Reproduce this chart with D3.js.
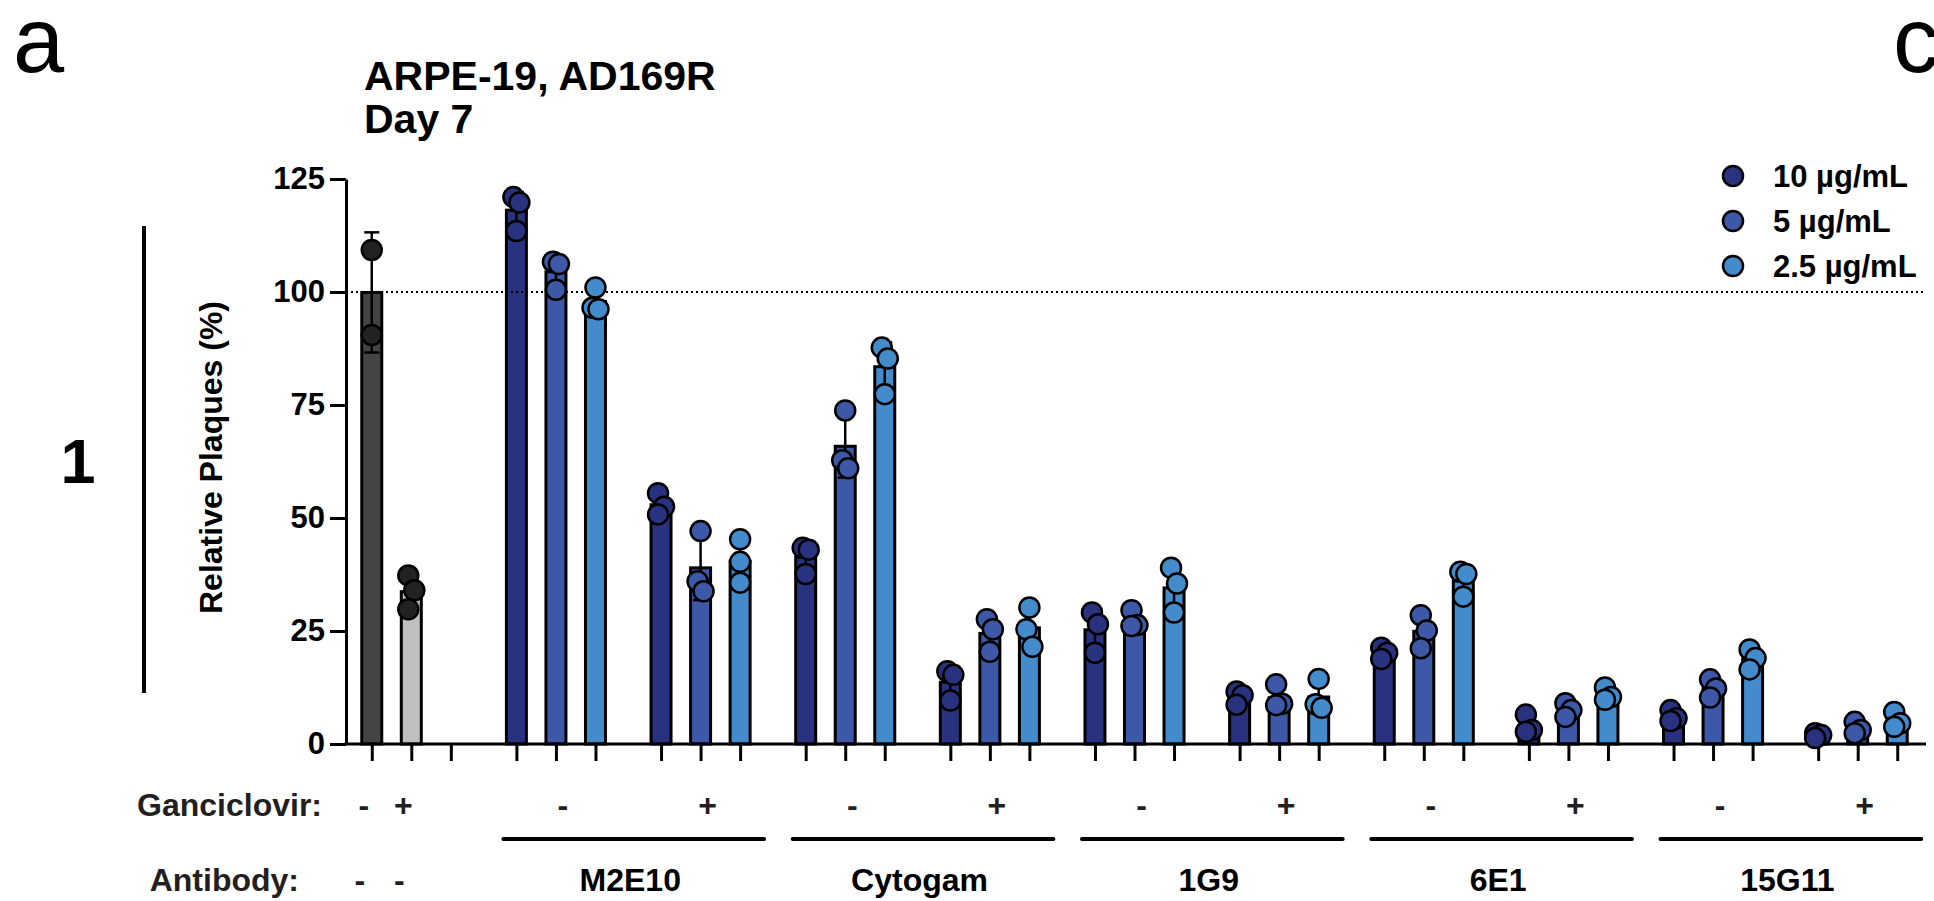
<!DOCTYPE html>
<html>
<head>
<meta charset="utf-8">
<script src="https://cdn.jsdelivr.net/npm/d3@7"></script>
<style>
  html, body { margin: 0; padding: 0; background: #fff; overflow: hidden; }
  svg text { font-family: "Liberation Sans", Arial, Helvetica, sans-serif; }
</style>
</head>
<body>
<svg id="chart" width="1934" height="901"></svg>
<script>
// ---- data -------------------------------------------------------------
const antibodies = ["M2E10", "Cytogam", "1G9", "6E1", "15G11"];
const ganciclovir = ["-", "+"];
const doses = ["10 µg/mL", "5 µg/mL", "2.5 µg/mL"];
const doseColors = ["#28327f", "#3c58a6", "#438bcb"];
const yTickValues = [0, 25, 50, 75, 100, 125];

// untreated controls: ganciclovir -, ganciclovir +
const controlGanciclovir = ["-", "+"];
const controlAntibody = ["-", "-"];
const controlColors = ["#444444", "#c0c0c0"];
const controlValues = [
  [109.3, 90.5],
  [37.3, 34.0, 29.8]
];

// replicate values per antibody: [ganciclovir -, ganciclovir +] x [10, 5, 2.5 µg/mL]
const valuesM2E10 = [
  [[121.0, 119.8, 113.5], [106.7, 106.2, 100.5], [101.0, 96.5, 96.2]],
  [[55.5, 52.5, 50.8], [47.1, 36.0, 33.8], [45.3, 40.3, 35.7]]
];
const valuesCytogam = [
  [[43.4, 43.0, 37.6], [73.8, 62.8, 61.0], [87.7, 85.3, 77.4]],
  [[16.1, 15.3, 9.6], [27.6, 25.4, 20.4], [30.2, 25.4, 21.5]]
];
const values1G9 = [
  [[29.1, 26.5, 20.2], [29.6, 26.3, 26.1], [39.0, 35.5, 29.1]],
  [[11.6, 10.8, 8.7], [13.2, 8.9, 8.6], [14.4, 8.8, 8.0]]
];
const values6E1 = [
  [[21.3, 20.2, 18.8], [28.5, 25.1, 21.2], [38.1, 37.6, 32.6]],
  [[6.5, 3.1, 2.7], [9.0, 7.5, 6.0], [12.5, 10.4, 9.8]]
];
const values15G11 = [
  [[7.5, 5.7, 5.1], [14.3, 12.3, 10.3], [20.9, 19.0, 16.5]],
  [[2.4, 2.0, 1.3], [4.9, 3.1, 2.4], [7.1, 4.6, 3.8]]
];
const antibodyValues = [valuesM2E10, valuesCytogam, values1G9, values6E1, values15G11];

// ---- layout -----------------------------------------------------------
const svg = d3.select("#chart");
const FONT = '"Liberation Sans", Arial, Helvetica, sans-serif';

const y = d3.scaleLinear().domain([0, 125]).range([744, 179]);
const axisLeftX = 346, axisRightX = 1926;

// 11 clusters of three columns: the controls, then each antibody without / with ganciclovir
const groupIds = d3.range(1 + antibodies.length * 2);
const gx = d3.scaleBand().domain(groupIds).range([352, 1917]).paddingInner(0.18).paddingOuter(0);
const sx = d3.scaleBand().domain([0, 1, 2]).range([0, gx.bandwidth()]);
const colX = (g, s) => gx(g) + sx(s) + sx.bandwidth() / 2;

// build column records
const columns = [];
controlValues.forEach((vals, s) => {
  columns.push({ g: 0, s, values: vals, fill: controlColors[s], dot: "#222222" });
});
antibodyValues.forEach((abVals, a) => {
  abVals.forEach((gcvVals, k) => {
    gcvVals.forEach((vals, s) => {
      columns.push({ g: 1 + a * 2 + k, s, values: vals, fill: doseColors[s], dot: doseColors[s] });
    });
  });
});
columns.forEach(c => {
  c.x = colX(c.g, c.s);
  c.mean = d3.mean(c.values);
  c.sd = d3.deviation(c.values);
});

// ---- bars ---------------------------------------------------------------
const BAR_W = 20;
svg.append("g").selectAll("rect").data(columns).join("rect")
  .attr("x", d => d.x - BAR_W / 2)
  .attr("y", d => y(d.mean))
  .attr("width", BAR_W)
  .attr("height", d => y(0) - y(d.mean))
  .attr("fill", d => d.fill)
  .attr("stroke", "#000")
  .attr("stroke-width", 3);

// ---- error bars (mean ± SD) --------------------------------------------
const eb = svg.append("g").attr("stroke", "#000").attr("stroke-width", 2.5).attr("fill", "none");
columns.forEach(c => {
  const y1 = y(c.mean + c.sd), y0 = y(Math.max(0, c.mean - c.sd));
  eb.append("line").attr("x1", c.x).attr("x2", c.x).attr("y1", y1).attr("y2", y0);
  eb.append("line").attr("x1", c.x - 7.5).attr("x2", c.x + 7.5).attr("y1", y1).attr("y2", y1);
  eb.append("line").attr("x1", c.x - 7.5).attr("x2", c.x + 7.5).attr("y1", y0).attr("y2", y0);
});

// ---- reference line at 100 % -------------------------------------------
svg.append("line")
  .attr("x1", axisLeftX).attr("x2", 1923)
  .attr("y1", y(100)).attr("y2", y(100))
  .attr("stroke", "#000").attr("stroke-width", 2).attr("stroke-dasharray", "2,3");

// ---- axes -----------------------------------------------------------------
const yAxis = d3.axisLeft(y).tickValues(yTickValues).tickSize(16).tickSizeOuter(0).tickPadding(5);
const gy = svg.append("g").attr("transform", `translate(${axisLeftX},0)`).call(yAxis);
gy.select(".domain").attr("stroke-width", 3);
gy.selectAll(".tick line").attr("stroke-width", 3);
gy.selectAll(".tick text").attr("font-family", FONT).attr("font-size", 31).attr("font-weight", "bold").attr("fill", "#000");

const slotKeys = [], slotPos = [];
groupIds.forEach(g => [0, 1, 2].forEach(s => { slotKeys.push(g + "-" + s); slotPos.push(colX(g, s)); }));
const slotScale = d3.scaleOrdinal(slotKeys, slotPos);
const xAxis = d3.axisBottom(slotScale).tickSize(17).tickSizeOuter(0).tickFormat("");
const gxAxis = svg.append("g").attr("transform", `translate(0,${y(0)})`).call(xAxis);
gxAxis.select(".domain").remove();
gxAxis.selectAll(".tick line").attr("stroke-width", 3);
svg.append("line")
  .attr("x1", axisLeftX - 1.5).attr("x2", axisRightX)
  .attr("y1", y(0)).attr("y2", y(0))
  .attr("stroke", "#000").attr("stroke-width", 3);

// ---- replicate points (spread sideways when they overlap) ---------------
const R = 10, SPREAD = 3;
const dots = svg.append("g");
columns.forEach(c => {
  const pts = c.values.map(v => ({ v, py: y(v) }));
  // cluster points closer than one diameter
  let cluster = [];
  const clusters = [];
  pts.forEach((p, i) => {
    if (i > 0 && Math.abs(p.py - pts[i - 1].py) < 2 * R) cluster.push(p);
    else { cluster = [p]; clusters.push(cluster); }
  });
  clusters.forEach(cl => {
    cl.forEach((p, j) => {
      p.dx = cl.length === 1 ? 0 : (j % 2 === 0 ? -SPREAD : SPREAD);
    });
  });
  pts.forEach(p => {
    dots.append("circle")
      .attr("cx", c.x + p.dx).attr("cy", p.py).attr("r", R)
      .attr("fill", c.dot).attr("stroke", "#000").attr("stroke-width", 2.5);
  });
});

// ---- y-axis title -----------------------------------------------------------
svg.append("text")
  .attr("transform", `translate(222,${(y(0) + y(125)) / 2 - 4}) rotate(-90)`)
  .attr("text-anchor", "middle")
  .attr("font-size", 32).attr("font-weight", "bold")
  .text("Relative Plaques (%)");

// ---- chart title ------------------------------------------------------------
const title = svg.append("text").attr("font-size", 41).attr("font-weight", "bold");
title.append("tspan").attr("x", 364).attr("y", 90).text("ARPE-19, AD169R");
title.append("tspan").attr("x", 364).attr("y", 133).text("Day 7");

// ---- legend -----------------------------------------------------------------
const legend = svg.append("g");
doses.forEach((d, i) => {
  const ly = 176 + i * 45;
  legend.append("circle").attr("cx", 1733).attr("cy", ly).attr("r", R)
    .attr("fill", doseColors[i]).attr("stroke", "#000").attr("stroke-width", 2.5);
  legend.append("text").attr("x", 1773).attr("y", ly + 11)
    .attr("font-size", 31).attr("font-weight", "bold").text(d);
});

// ---- treatment table under the axis ----------------------------------------
const ROW1 = 816, ROW2 = 891;
const tbl = svg.append("g").attr("font-size", 32).attr("font-weight", "bold").attr("fill", "#231f20");
tbl.append("text").attr("x", 322).attr("y", ROW1).attr("text-anchor", "end").text("Ganciclovir:");
tbl.append("text").attr("x", 299).attr("y", ROW2).attr("text-anchor", "end").text("Antibody:");

controlGanciclovir.forEach((t, s) => {
  tbl.append("text").attr("x", colX(0, s) - 8).attr("y", ROW1).attr("text-anchor", "middle").text(t);
});
controlAntibody.forEach((t, s) => {
  tbl.append("text").attr("x", colX(0, s) - 12).attr("y", ROW2).attr("text-anchor", "middle").text(t);
});

antibodies.forEach((ab, a) => {
  const gMinus = 1 + a * 2, gPlus = gMinus + 1;
  ganciclovir.forEach((t, k) => {
    tbl.append("text").attr("x", colX(gMinus + k, 1) + 7).attr("y", ROW1)
      .attr("text-anchor", "middle").text(t);
  });
  const x0 = colX(gMinus, 0) - 13, x1 = colX(gPlus, 2) + 24;
  svg.append("line").attr("x1", x0).attr("x2", x1).attr("y1", 839).attr("y2", 839)
    .attr("stroke", "#000").attr("stroke-width", 4).attr("stroke-linecap", "round");
  tbl.append("text").attr("x", (colX(gMinus, 0) + colX(gPlus, 2)) / 2 + 2).attr("y", ROW2)
    .attr("text-anchor", "middle").attr("fill", "#000").text(ab);
});

// ---- panel marks --------------------------------------------------------------
svg.append("text").attr("x", 13).attr("y", 72).attr("font-size", 92).text("a");
svg.append("text").attr("x", 1893).attr("y", 72).attr("font-size", 92).text("c");
svg.append("text").attr("x", 78).attr("y", 483).attr("text-anchor", "middle")
  .attr("font-size", 63).attr("font-weight", "bold").text("1");
svg.append("line").attr("x1", 144).attr("x2", 144).attr("y1", 226).attr("y2", 693)
  .attr("stroke", "#000").attr("stroke-width", 4);
</script>
</body>
</html>
